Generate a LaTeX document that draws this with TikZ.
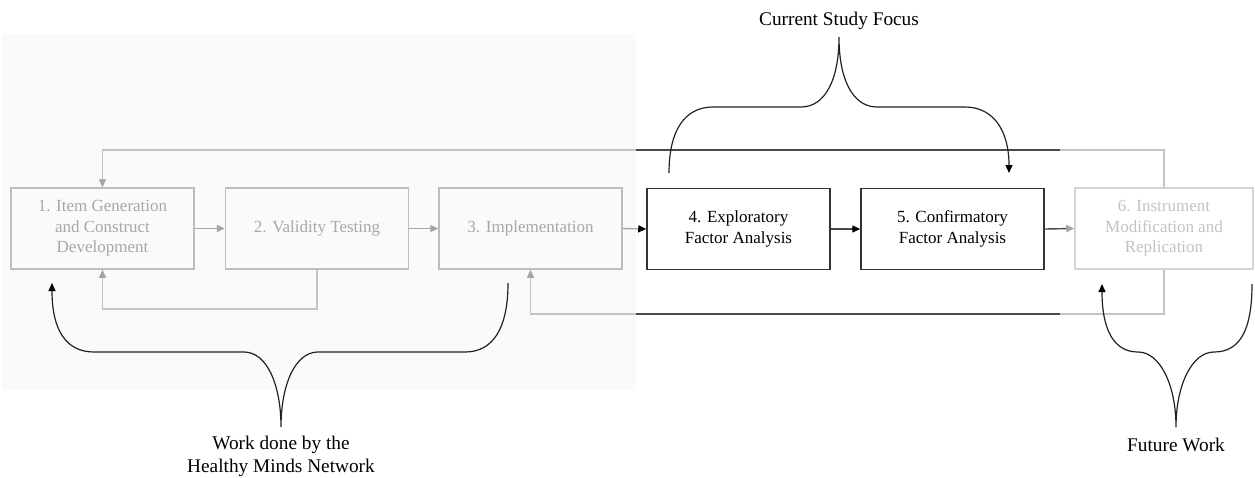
\documentclass[tikz,border=0pt]{standalone}
\usepackage{fontspec}
\setmainfont{Liberation Serif}
\usetikzlibrary{arrows.meta}
\definecolor{bggray}{HTML}{FAFAFA}
\definecolor{boxgray}{HTML}{BDBDBD}
\definecolor{txtgray}{HTML}{A8A8A8}
\definecolor{lightbox}{HTML}{D4D4D4}
\definecolor{lighttxt}{HTML}{C2C2C2}
\definecolor{arrgray}{HTML}{A4A4A4}
\definecolor{loopgray}{HTML}{C4C4C4}
\definecolor{darkline}{HTML}{4A4A4A}
\definecolor{darkbox}{HTML}{333333}
\definecolor{bracecol}{HTML}{222222}
\begin{document}
\begin{tikzpicture}[x=1pt,y=-1pt,
  box/.style={draw, line width=1.5pt, minimum width=183pt, minimum height=81pt,
    align=center, inner sep=0pt, font=\fontsize{17}{20.5}\selectfont},
  greybox/.style={box, draw=boxgray, text=txtgray},
  lightgreybox/.style={box, draw=lightbox, text=lighttxt, minimum width=178pt},
  darkboxst/.style={box, draw=darkbox, text=black},
  tipg/.style={-{Triangle[length=8pt,width=7pt,color=arrgray]}},
  tipk/.style={-{Triangle[length=8pt,width=7pt,color=black]}},
  flow/.style={line width=1.4pt},
  loopline/.style={line width=1.4pt, draw=loopgray},
  darkseg/.style={line width=1.4pt, draw=darkline},
  brace/.style={line width=1.2pt, draw=bracecol},
  lbl/.style={font=\fontsize{19.3}{23}\selectfont, align=center, inner sep=0pt}
]
\useasboundingbox (0,0) rectangle (1255,477);
\fill[bggray] (2,34) rectangle (636,390);

% boxes
\node[greybox] (B1) at (102.5,228.5) {1. Item Generation\\and Construct\\Development};
\node[greybox] (B2) at (317,228.5) {2. Validity Testing};
\node[greybox] (B3) at (530.5,228.5) {3. Implementation};
\node[darkboxst] (B4) at (738.5,229) {4. Exploratory\\Factor Analysis};
\node[darkboxst] (B5) at (952.5,229) {5. Confirmatory\\Factor Analysis};
\node[lightgreybox] (B6) at (1164,228.5) {6. Instrument\\Modification and\\Replication};

% forward arrows
\draw[flow, draw=arrgray, tipg] (B1.east) -- (B2.west);
\draw[flow, draw=arrgray, tipg] (B2.east) -- (B3.west);
\draw[flow, draw=arrgray, tipk] (B3.east) -- (B4.west);
\draw[flow, draw=darkline, tipk] (B4.east) -- (B5.west);
\draw[flow, draw=darkline, tipg] (B5.east) -- (B6.west);

% feedback loops
\coordinate (ytop) at (0,150);
\coordinate (ylow) at (0,309);
\coordinate (ybot) at (0,314);
\draw[loopline, tipg] (B6.north) -- (B6.north |- ytop) -| (B1.north);
\draw[loopline, tipg] (B2.south) -- (B2.south |- ylow) -| (B1.south);
\draw[loopline, tipg] (B6.south) -- (B6.south |- ybot) -| (B3.south);
\coordinate (dt1) at (636,150); \coordinate (dt2) at (1060,150);
\coordinate (db1) at (636,314); \coordinate (db2) at (1060,314);
\draw[darkseg] (dt1) -- (dt2);
\draw[darkseg] (db1) -- (db2);

% labels
\node[lbl] (csf) at (839,21) {Current Study Focus};
\node[lbl] (hmn) at (281,456) {Work done by the\\Healthy Minds Network};
\node[lbl] (fw) at (1176,445) {Future Work};

% braces
\draw[brace, tipk] (669,173) .. controls (669,130) and (685,107) .. (713,107) -- (801,107)
  .. controls (825,107) and (839,80) .. (839,37)
  .. controls (839,80) and (853,107) .. (877,107) -- (965,107)
  .. controls (993,107) and (1009,130) .. (1009,173);
\draw[brace, tipk] (508,283) .. controls (508,330) and (492,352) .. (465,352) -- (318,352)
  .. controls (295,352) and (281,385) .. (281,427)
  .. controls (281,385) and (267,352) .. (244,352) -- (94,352)
  .. controls (66,352) and (52,330) .. (52,283);
\draw[brace, tipk] (1252,284) .. controls (1252,330) and (1240,352) .. (1214,352)
  .. controls (1192,352) and (1176,385) .. (1176,427)
  .. controls (1176,385) and (1160,352) .. (1138,352)
  .. controls (1114,352) and (1102,330) .. (1102,284);
\end{tikzpicture}
\end{document}
